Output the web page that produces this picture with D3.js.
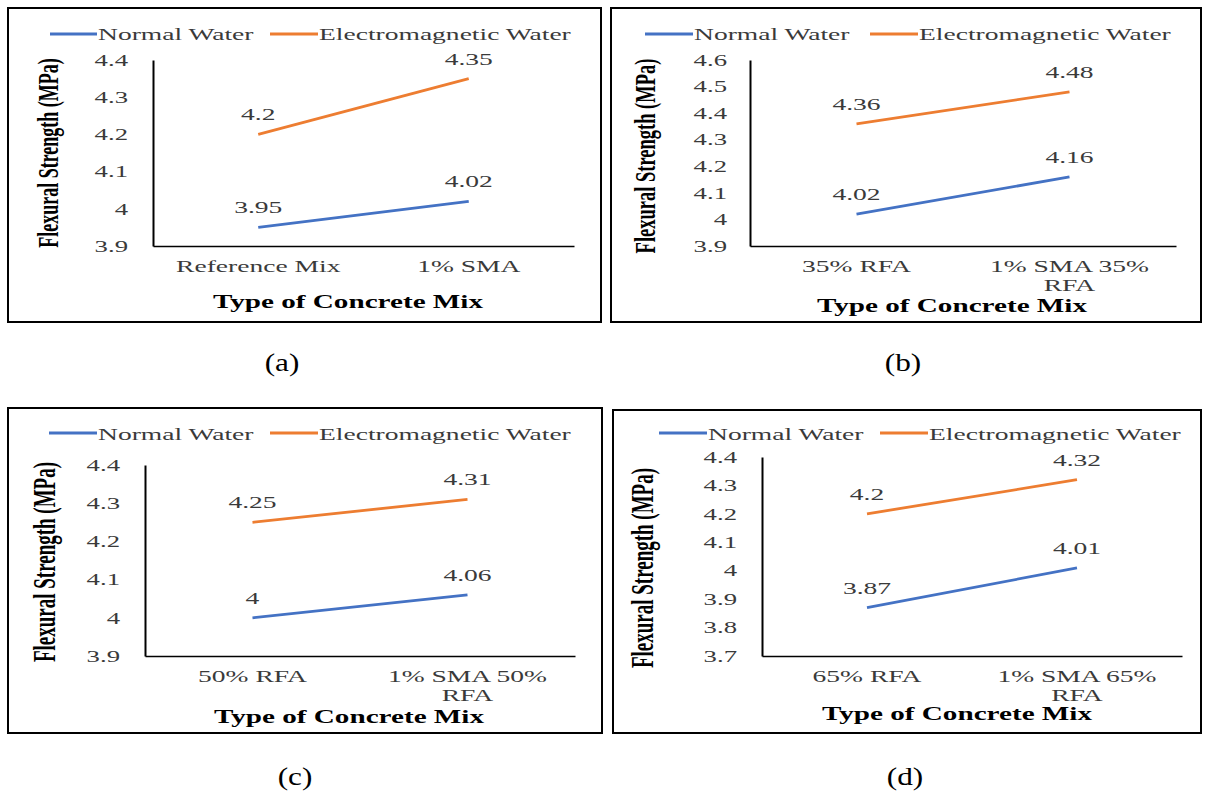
<!DOCTYPE html>
<html><head><meta charset="utf-8">
<script src="https://cdn.jsdelivr.net/npm/d3@7"></script>
<style>
body{margin:0;background:#fff}
svg{display:block}
text{font-family:"Liberation Serif","Times New Roman",serif}
</style>
</head><body>
<svg id="c" width="1207" height="792"></svg>
<script>
// ---- data ----
const seriesNames = ["Normal Water", "Electromagnetic Water"];
const seriesColors = ["#4472C4", "#ED7D31"];

const categoriesA = ["Reference Mix", "1% SMA"];
const normalA = [3.95, 4.02];
const emA = [4.2, 4.35];
const ticksA = [3.9, 4.0, 4.1, 4.2, 4.3, 4.4];

const categoriesB = ["35% RFA", "1% SMA 35% RFA"];
const normalB = [4.02, 4.16];
const emB = [4.36, 4.48];
const ticksB = [3.9, 4.0, 4.1, 4.2, 4.3, 4.4, 4.5, 4.6];

const categoriesC = ["50% RFA", "1% SMA 50% RFA"];
const normalC = [4.0, 4.06];
const emC = [4.25, 4.31];
const ticksC = [3.9, 4.0, 4.1, 4.2, 4.3, 4.4];

const categoriesD = ["65% RFA", "1% SMA 65% RFA"];
const normalD = [3.87, 4.01];
const emD = [4.2, 4.32];
const ticksD = [3.7, 3.8, 3.9, 4.0, 4.1, 4.2, 4.3, 4.4];

const yTitle = "Flexural Strength (MPa)";
const xTitle = "Type of Concrete Mix";
const captions = ["(a)", "(b)", "(c)", "(d)"];

// ---- layout ----
const panels = [
  {cats: categoriesA, series: [normalA, emA], ticks: ticksA, cap: captions[0],
   box: [8, 8, 601, 322], plot: {x0: 153, x1: 574, y0: 60, y1: 246},
   legend: {ly: 34, ty: 40, items: [[50, 97], [270, 318]]}, tickPad: 25,
   xt: [348, 308], yt: [58, 153, 18], capPos: [282, 371]},
  {cats: categoriesB, series: [normalB, emB], ticks: ticksB, cap: captions[1],
   box: [611, 8, 1201, 322], plot: {x0: 750, x1: 1176, y0: 60, y1: 246},
   legend: {ly: 34, ty: 40, items: [[645, 693], [870, 918]]}, tickPad: 23,
   xt: [952, 312], yt: [655, 156, 18.5], capPos: [903, 371]},
  {cats: categoriesC, series: [normalC, emC], ticks: ticksC, cap: captions[2],
   box: [8, 408, 602, 733], plot: {x0: 145, x1: 575, y0: 465, y1: 656},
   legend: {ly: 433, ty: 440, items: [[49, 97], [270, 318]]}, tickPad: 25,
   xt: [349, 723], yt: [55, 562, 19], capPos: [295, 785]},
  {cats: categoriesD, series: [normalD, emD], ticks: ticksD, cap: captions[3],
   box: [613, 410, 1201, 733], plot: {x0: 762, x1: 1182, y0: 457, y1: 656},
   legend: {ly: 433, ty: 440, items: [[659, 707], [880, 928]]}, tickPad: 25,
   xt: [957, 720], yt: [653, 568, 19], capPos: [905, 785]}
];

const SX = 1.62;
const TXT = "#3a3a3a";
const svg = d3.select("#c");

function sText(g, str, x, y, size, o = {}) {
  return g.append("text")
    .attr("transform", `translate(${x},${y}) scale(${o.sx || SX},1)` + (o.rot ? " rotate(-90)" : ""))
    .attr("font-size", size)
    .attr("text-anchor", o.anchor || "start")
    .attr("font-weight", o.weight || "normal")
    .attr("fill", o.fill || TXT)
    .text(str);
}

panels.forEach(p => {
  const g = svg.append("g");
  g.append("rect")
    .attr("x", p.box[0]).attr("y", p.box[1])
    .attr("width", p.box[2] - p.box[0]).attr("height", p.box[3] - p.box[1])
    .attr("fill", "none").attr("stroke", "#000").attr("stroke-width", 2);

  const x = d3.scaleBand().domain(p.cats).range([p.plot.x0, p.plot.x1]);
  const y = d3.scaleLinear().domain([p.ticks[0], p.ticks[p.ticks.length - 1]])
    .range([p.plot.y1, p.plot.y0]);

  // y axis
  const ya = g.append("g").attr("transform", `translate(${p.plot.x0},0)`)
    .call(d3.axisLeft(y).tickValues(p.ticks).tickSize(0).tickSizeOuter(0)
      .tickPadding(p.tickPad).tickFormat(d3.format("~g")));
  ya.attr("font-family", null).attr("font-size", null);
  ya.select(".domain").attr("stroke", "#000").attr("stroke-width", 2);
  ya.selectAll(".tick text")
    .attr("font-size", 16.5).attr("fill", TXT)
    .attr("x", -p.tickPad / SX)
    .attr("transform", `scale(${SX},1)`);

  // x axis
  const xa = g.append("g").attr("transform", `translate(0,${p.plot.y1})`)
    .call(d3.axisBottom(x).tickSize(0).tickSizeOuter(0));
  xa.attr("font-family", null).attr("font-size", null);
  xa.select(".domain").attr("stroke", "#000").attr("stroke-width", 1.3);
  const maxW = x.bandwidth() / SX - 4;
  xa.selectAll(".tick text").each(function(d) {
    const t = d3.select(this);
    t.text(null).attr("y", null).attr("dy", null)
      .attr("font-size", 17).attr("fill", TXT)
      .attr("transform", `translate(0,26) scale(${SX},1)`);
    const words = d.split(" ");
    const lines = [];
    let cur = [];
    const probe = t.append("tspan");
    words.forEach(w => {
      const test = cur.concat([w]).join(" ");
      probe.text(test);
      if (probe.node().getComputedTextLength() > maxW && cur.length) {
        lines.push(cur.join(" "));
        cur = [w];
      } else cur.push(w);
    });
    lines.push(cur.join(" "));
    probe.remove();
    lines.forEach((ln, i) => t.append("tspan").attr("x", 0).attr("y", i * 19).text(ln));
  });

  // lines + labels
  const line = d3.line()
    .x((v, i) => x(p.cats[i]) + x.bandwidth() / 2)
    .y(v => y(v));
  p.series.forEach((vals, si) => {
    g.append("path").datum(vals).attr("d", line)
      .attr("fill", "none").attr("stroke", seriesColors[si]).attr("stroke-width", 2.8);
    vals.forEach((v, i) => {
      sText(g, String(v), x(p.cats[i]) + x.bandwidth() / 2, y(v) - 14, 17, {anchor: "middle"});
    });
  });

  // legend
  p.legend.items.forEach((it, si) => {
    g.append("line").attr("x1", it[0]).attr("x2", it[1])
      .attr("y1", p.legend.ly).attr("y2", p.legend.ly)
      .attr("stroke", seriesColors[si]).attr("stroke-width", 2.8);
    sText(g, seriesNames[si], it[1] + 1, p.legend.ty, 17);
  });

  // titles
  sText(g, xTitle, p.xt[0], p.xt[1], 18, {anchor: "middle", weight: "bold", fill: "#000"});
  sText(g, yTitle, p.yt[0], p.yt[1], p.yt[2], {anchor: "middle", weight: "bold", fill: "#000", rot: true});

  // caption
  sText(svg, p.cap, p.capPos[0], p.capPos[1], 25, {anchor: "middle", fill: "#000", sx: 1.25});
});
</script>
</body></html>
